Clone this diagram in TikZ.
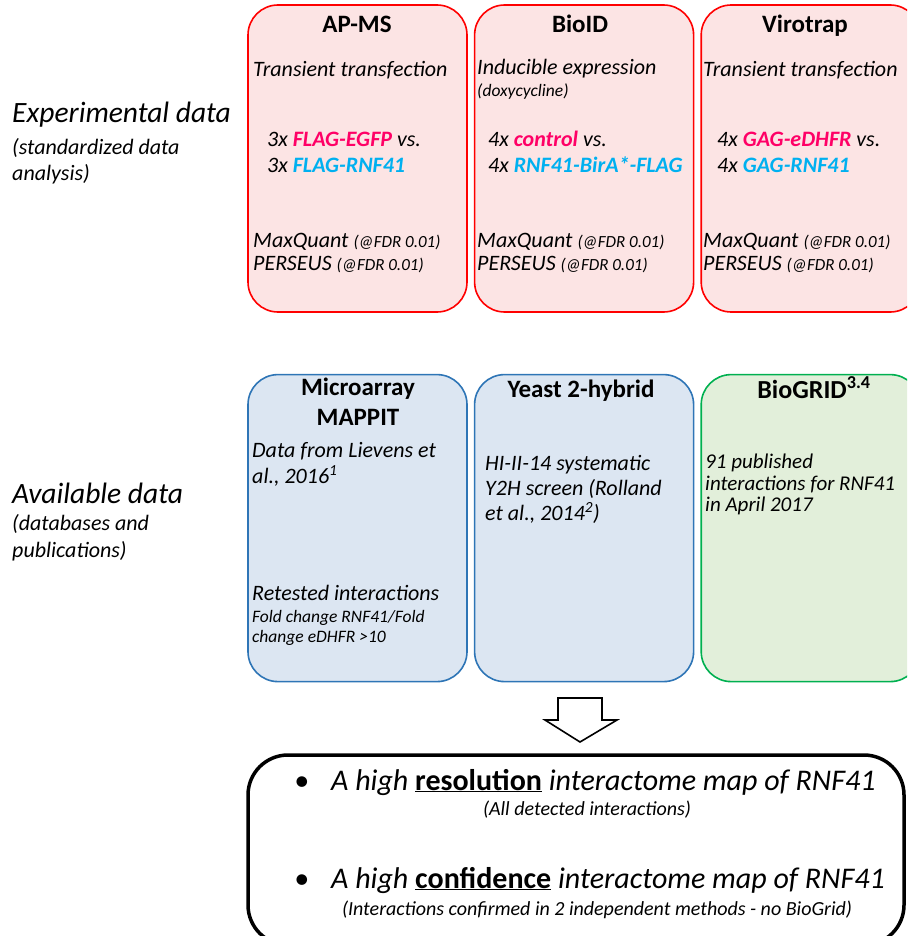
\documentclass[tikz,border=0pt]{standalone}
\usepackage{fontspec}
\setmainfont{Carlito}
\usetikzlibrary{positioning}
\usetikzlibrary{calc}

\definecolor{boxred}{HTML}{FF0000}
\definecolor{fillred}{HTML}{FCE4E4}
\definecolor{boxblue}{HTML}{2E75B6}
\definecolor{fillblue}{HTML}{DCE6F2}
\definecolor{boxgreen}{HTML}{00B050}
\definecolor{fillgreen}{HTML}{E2EFDA}
\definecolor{ctrlpink}{HTML}{FF0066}
\definecolor{baitblue}{HTML}{00B0F0}

\newcommand{\fsz}[2]{\fontsize{#1}{#2}\selectfont}

\begin{document}
\begin{tikzpicture}[x=1pt, y=-1pt,
  box/.style={rectangle, rounded corners=30pt, line width=1.6pt, inner sep=0pt, minimum width=219pt, minimum height=307pt},
  redbox/.style={box, draw=boxred, fill=fillred},
  bluebox/.style={box, draw=boxblue, fill=fillblue},
  greenbox/.style={box, draw=boxgreen, fill=fillgreen},
  resultbox/.style={rectangle, rounded corners=40pt, line width=3.5pt, draw=black, inner sep=0pt, minimum width=656pt, minimum height=190pt},
  head/.style={anchor=base, inner sep=0pt, font=\bfseries\fsz{25}{30}},
  txt/.style={anchor=base west, inner sep=0pt, font=\itshape\fsz{22}{25}},
  smalltxt/.style={anchor=base west, inner sep=0pt, font=\itshape\fsz{17.5}{20}},
  side/.style={anchor=base west, inner sep=0pt, font=\itshape\fsz{29.5}{34}},
  sidesmall/.style={anchor=base west, inner sep=0pt, font=\itshape\fsz{22}{25}}]

  \useasboundingbox (0,0) rectangle (907,936);
  \clip (0,0) rectangle (907,936);

  \def\fdr{{\fsz{17}{20}(@FDR 0.01)}}

  % experimental data
  \node[redbox] (apms) at (357.5,158.5) {};
  \node[redbox, right=6pt of apms] (bioid) {};
  \node[redbox, right=6pt of bioid] (virotrap) {};

  % available data
  \node[bluebox, below=61pt of apms] (mappit) {};
  \node[bluebox, below=61pt of bioid] (y2h) {};
  \node[greenbox, below=61pt of virotrap] (biogrid) {};

  \node[resultbox] (result) at (576,850) {};

  \node[side] (exphead) at (12,123) {Experimental data};
  \node[sidesmall] (expsuba) at (12,155) {(standardized data};
  \node[sidesmall] (expsubb) at (12,180) {analysis)};
  \node[side] (avahead) at (12,503) {Available data};
  \node[sidesmall] (avasuba) at (12,530) {(databases and};
  \node[sidesmall] (avasubb) at (12,557) {publications)};

  \node[head] (apmstitle) at (357,33) {AP-MS};
  \node[txt] (apmsa) at (253,77) {Transient transfection};
  \node[txt] (apmsb) at (267,147) {3x \textcolor{ctrlpink}{\bfseries FLAG-EGFP} vs.};
  \node[txt] (apmsc) at (267,172) {3x \textcolor{baitblue}{\bfseries FLAG-RNF41}};
  \node[txt] (apmsd) at (253,247) {MaxQuant \fdr};
  \node[txt] (apmse) at (253,270) {PERSEUS \fdr};

  \node[head] (bioidtitle) at (580,33) {BioID};
  \node[txt] (bioida) at (477,75) {Inducible expression};
  \node[smalltxt] (bioidb) at (477,97) {(doxycycline)};
  \node[txt] (bioidc) at (488,147) {4x \textcolor{ctrlpink}{\bfseries control} vs.};
  \node[txt] (bioidd) at (488,172) {4x \textcolor{baitblue}{\bfseries RNF41-BirA*-FLAG}};
  \node[txt] (bioide) at (477,247) {MaxQuant \fdr};
  \node[txt] (bioidf) at (477,270) {PERSEUS \fdr};

  \node[head] (virotitle) at (805,33) {Virotrap};
  \node[txt] (viroa) at (703,77) {Transient transfection};
  \node[txt] (virob) at (717,147) {4x \textcolor{ctrlpink}{\bfseries GAG-eDHFR} vs.};
  \node[txt] (viroc) at (717,172) {4x \textcolor{baitblue}{\bfseries GAG-RNF41}};
  \node[txt] (virod) at (703,247) {MaxQuant \fdr};
  \node[txt] (viroe) at (703,270) {PERSEUS \fdr};

  \node[head] (mappittitle) at (358,395) {Microarray};
  \node[head] (mappittitleb) at (358,425) {MAPPIT};
  \node[txt] (mappita) at (252,457) {Data from Lievens et};
  \node[txt] (mappitb) at (252,483) {al., 2016\textsuperscript{1}};
  \node[txt] (mappitc) at (252,600) {Retested interactions};
  \node[smalltxt] (mappitd) at (252,622) {Fold change RNF41/Fold};
  \node[smalltxt] (mappite) at (252,642) {change eDHFR >10};

  \node[head] (y2htitle) at (581,397) {Yeast 2-hybrid};
  \node[txt] (y2ha) at (485,470) {HI-II-14 systematic};
  \node[txt] (y2hb) at (485,495) {Y2H screen (Rolland};
  \node[txt] (y2hc) at (485,520) {et al., 2014\textsuperscript{2})};

  \node[head, font=\bfseries\fsz{26}{30}] (biogridtitle) at (814,398) {BioGRID\textsuperscript{3.4}};
  \node[txt, font=\itshape\fsz{21}{21}] (biogrida) at (705,468) {91 published};
  \node[txt, font=\itshape\fsz{21}{21}] (biogridb) at (705,490) {interactions for RNF41};
  \node[txt, font=\itshape\fsz{21}{21}] (biogridc) at (705,511) {in April 2017};

  % block arrow between the rows and the result
  \coordinate (arrowtop) at (580,698);
  \draw[line width=1.6pt, fill=white] (arrowtop) ++(-22,0) -- ++(44,0) -- ++(0,22) -- ++(15,0)
    -- ++(-37,22) -- ++(-35,-22) -- ++(13,0) -- cycle;

  \node[txt, font=\itshape\fsz{30}{34}] (resa) at (294,790) {\textbullet\hspace{22pt}A high \underline{\upshape\bfseries resolution} interactome map of RNF41};
  \node[anchor=base, inner sep=0pt, font=\itshape\fsz{20}{24}] (resb) at (587,815) {(All detected interactions)};
  \node[txt, font=\itshape\fsz{30}{34}] (resc) at (294,888) {\textbullet\hspace{22pt}A high \underline{\upshape\bfseries confidence} interactome map of RNF41};
  \node[anchor=base, inner sep=0pt, font=\itshape\fsz{20}{24}] (resd) at (597,915) {(Interactions confirmed in 2 independent methods - no BioGrid)};

\end{tikzpicture}
\end{document}
